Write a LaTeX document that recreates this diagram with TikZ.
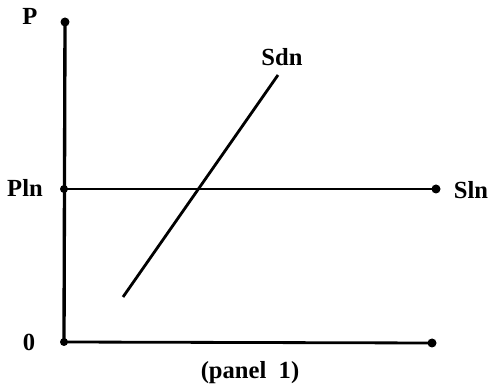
\documentclass[tikz,border=0pt]{standalone}
\usepackage{fontspec}
\setmainfont{Liberation Serif}
\usepackage{tikz}

\begin{document}
\begin{tikzpicture}[x=0.02cm,y=-0.02cm,line width=1.6pt,
                    lbl/.style={font=\fontsize{14}{16}\selectfont\bfseries}]
                \useasboundingbox (0,0) rectangle (490,391);
                \coordinate (top) at (65,22);
                \coordinate (orig) at (64,342);
                \coordinate (pl) at (64,189);
                \coordinate (sl) at (436,189);
                \coordinate (qend) at (432,343);
                \coordinate (sdlo) at (123,297);
                \coordinate (sdhi) at (278,75);
                \draw [line width=1.9pt] (top) -- (orig);
                \draw (orig) -- (qend);
                \draw (pl) -- (sl);
                \draw (sdlo) -- (sdhi);
                \fill (top) circle [radius=4.5];
                \fill (pl) circle [radius=4];
                \fill (orig) circle [radius=4];
                \fill (sl) circle [radius=4.5];
                \fill (qend) circle [radius=4.5];
                \node [lbl] (P) at (30,16) {P};
                \node [lbl] (Pln) at (25,188) {Pln};
                \node [lbl] (zero) at (29,342) {0};
                \node [lbl] (Sdn) at (282,57) {Sdn};
                \node [lbl] (Sln) at (471,190) {Sln};
                \node [lbl] (panel) at (250,373) {(panel\ \ 1)};
            \end{tikzpicture}
\end{document}
